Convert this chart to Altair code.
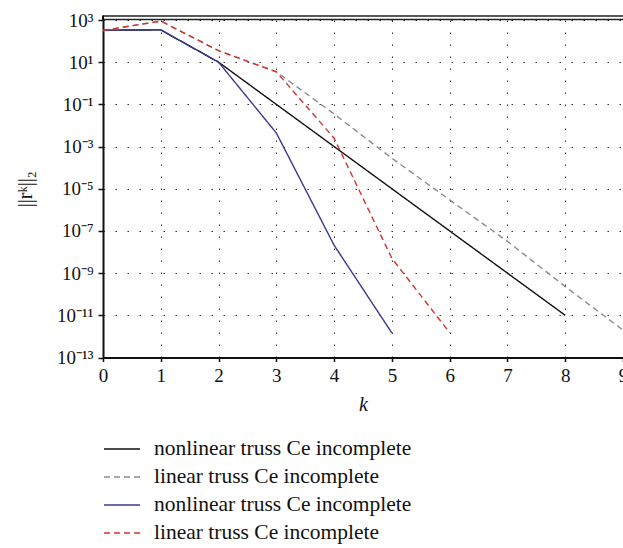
import altair as alt
import pandas as pd

# ---- data ----
series_ids = ["s1", "s2", "s3", "s4"]
series_names = [
    "nonlinear truss Ce incomplete",
    "linear truss Ce incomplete",
    "nonlinear truss Ce incomplete",
    "linear truss Ce incomplete",
]
series_colors = ["#111111", "#8c8c8c", "#3a3a92", "#d8312b"]
series_dashes = [[1, 0], [6, 4], [1, 0], [6, 4]]

k_black = [0, 1, 2, 3, 4, 5, 6, 7, 8]
r_black = [330, 340, 10, 0.1, 1e-3, 1e-5, 1e-7, 1e-9, 1e-11]

k_gray = [0, 1, 2, 3, 4, 5, 6, 7, 8, 9, 10]
r_gray = [320, 890, 35, 3.5, 0.035, 2.8e-4, 2.95e-6, 3.2e-8, 2.3e-10, 2.0e-12, 2.0e-14]

k_blue = [0, 1, 2, 3, 4, 5]
r_blue = [330, 340, 10, 4.4e-3, 2.1e-8, 1.45e-12]

k_red = [0, 1, 2, 3, 4, 5, 6]
r_red = [320, 890, 35, 3.5, 2.5e-3, 5e-9, 1.5e-12]

x_ticks = [0, 1, 2, 3, 4, 5, 6, 7, 8, 9]
y_tick_exps = [3, 1, -1, -3, -5, -7, -9, -11, -13]
y_tick_labels = ["10³", "10¹", "10⁻¹", "10⁻³", "10⁻⁵", "10⁻⁷", "10⁻⁹", "10⁻¹¹", "10⁻¹³"]

rows = []
for sid, ks, rs in zip(series_ids, [k_black, k_gray, k_blue, k_red],
                       [r_black, r_gray, r_blue, r_red]):
    for k, r in zip(ks, rs):
        rows.append({"k": k, "r": r, "s": sid})
df = pd.DataFrame(rows)

FONT = "Liberation Serif"
W = 520
H = 337.5

legend_map = "{" + ",".join(f"'{i}':'{n}'" for i, n in zip(series_ids, series_names)) + "}"
ylab_map = "{" + ",".join(f"'{e}':'{l}'" for e, l in zip(y_tick_exps, y_tick_labels)) + "}"

leg = alt.Legend(
    title=None, orient="none", legendX=0, legendY=415, direction="vertical",
    symbolType="stroke", symbolSize=1296, symbolStrokeWidth=1.4,
    labelFont=FONT, labelFontSize=21.5, labelOffset=13, labelColor="#111",
    labelLimit=0, clipHeight=28, rowPadding=0, padding=0,
    labelExpr=legend_map + "[datum.value]",
)

lines = alt.Chart(df).mark_line(clip=True, strokeWidth=1.4).encode(
    x=alt.X("k:Q", scale=alt.Scale(domain=[0, 9], nice=False, zero=False),
            axis=alt.Axis(values=x_ticks, title="k", titleFontStyle="italic",
                          titleX=260, titleY=47, titleBaseline="middle",
                          tickSize=4, labelPadding=5, format="d",
                          labelFlush=False, labelOverlap=False)),
    y=alt.Y("r:Q", scale=alt.Scale(type="log", domain=[1e-13, 1e3], nice=False),
            axis=alt.Axis(values=[10.0 ** e for e in y_tick_exps],
                          labelExpr=ylab_map + "[round(log(datum.value)/LN10)]",
                          title="||rᵏ||₂", titleX=-78, titleY=H / 2,
                          titleBaseline="middle", titleAngle=-90,
                          tickSize=5, labelPadding=5, labelFlush=False)),
    color=alt.Color("s:N", scale=alt.Scale(domain=series_ids, range=series_colors), legend=leg),
    strokeDash=alt.StrokeDash("s:N", scale=alt.Scale(domain=series_ids, range=series_dashes), legend=leg),
)

one = alt.Data(values=[{"a": 1}])
top1 = alt.Chart(one).mark_rule(color="#222", strokeWidth=1.5).encode(
    x=alt.value(0), x2=alt.value(W), y=alt.value(-0.5))
top2 = alt.Chart(one).mark_rule(color="#222", strokeWidth=1.5).encode(
    x=alt.value(0), x2=alt.value(W), y=alt.value(-4))
left_ext = alt.Chart(one).mark_rule(color="#111", strokeWidth=2).encode(
    x=alt.value(0), y=alt.value(-4.5), y2=alt.value(0))

chart = alt.layer(lines, top1, top2, left_ext).properties(
    width=W, height=H, autosize="none",
    padding={"left": 103, "top": 20, "right": 0, "bottom": 548 - 20 - H},
).configure_view(stroke=None).configure_axis(
    domainColor="#111", domainWidth=2, tickColor="#111", tickWidth=1.5,
    grid=True, gridColor="#333", gridDash=[1.5, 10.5], gridWidth=1,
    labelFont=FONT, labelFontSize=19, labelColor="#111",
    titleFont=FONT, titleFontSize=20, titleFontWeight="normal", titleColor="#111",
)

chart.save("out.html", embed_options={"renderer": "svg", "actions": False})
